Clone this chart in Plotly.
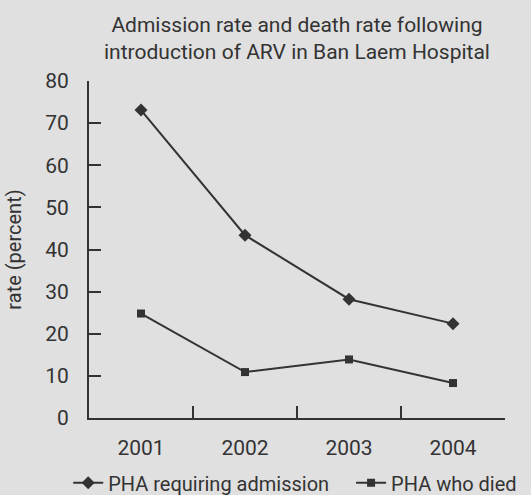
import plotly.graph_objects as go

years = ["2001", "2002", "2003", "2004"]
admission = [73.1, 43.4, 28.2, 22.4]
died = [24.8, 10.9, 13.9, 8.3]

FONT = "Roboto, Liberation Sans, sans-serif"
INK = "#333333"
BG = "#e0e0e0"
W, H = 531, 495

fig = go.Figure()
fig.add_trace(go.Scatter(
    x=years, y=admission, mode="lines+markers", name="PHA requiring admission",
    line=dict(color=INK, width=2),
    marker=dict(symbol="diamond", size=10, color=INK),
    legend="legend",
))
fig.add_trace(go.Scatter(
    x=years, y=died, mode="lines+markers", name="PHA who died",
    line=dict(color=INK, width=2),
    marker=dict(symbol="square", size=8, color=INK),
    legend="legend2",
))

legend_style = dict(
    orientation="h", xanchor="left", y=-0.192, yanchor="middle",
    font=dict(family=FONT, size=20, color=INK),
    bgcolor="rgba(0,0,0,0)", itemwidth=30,
)

fig.update_layout(
    width=W, height=H,
    paper_bgcolor=BG, plot_bgcolor=BG,
    margin=dict(l=89, r=26, t=81, b=77, autoexpand=False),
    font=dict(family=FONT, size=20, color=INK),
    title=dict(
        text="Admission rate and death rate following<br>introduction of ARV in Ban Laem Hospital",
        font=dict(family=FONT, size=21, color=INK),
        x=0.5, xref="paper", xanchor="center",
        y=1 - 32 / H, yref="container", yanchor="middle",
    ),
    showlegend=True,
    legend=dict(x=-0.05, **legend_style),
    legend2=dict(x=0.63, **legend_style),
)
fig.update_xaxes(
    type="category", range=[-0.5, 3.5],
    showline=True, linecolor=INK, linewidth=2,
    ticks="inside", tickson="boundaries", ticklen=12, tickwidth=2, tickcolor=INK,
    showgrid=False, zeroline=False, ticklabelstandoff=10,
    tickfont=dict(size=21),
)
fig.update_yaxes(
    range=[0, 80], dtick=10,
    showline=True, linecolor=INK, linewidth=2,
    ticks="inside", ticklen=12, tickwidth=2, tickcolor=INK,
    showgrid=False, zeroline=False, ticklabelstandoff=14,
    tickfont=dict(size=21),
    title=dict(text="rate (percent)", font=dict(family=FONT, size=20, color=INK), standoff=18),
)

fig.write_html("out.html")
